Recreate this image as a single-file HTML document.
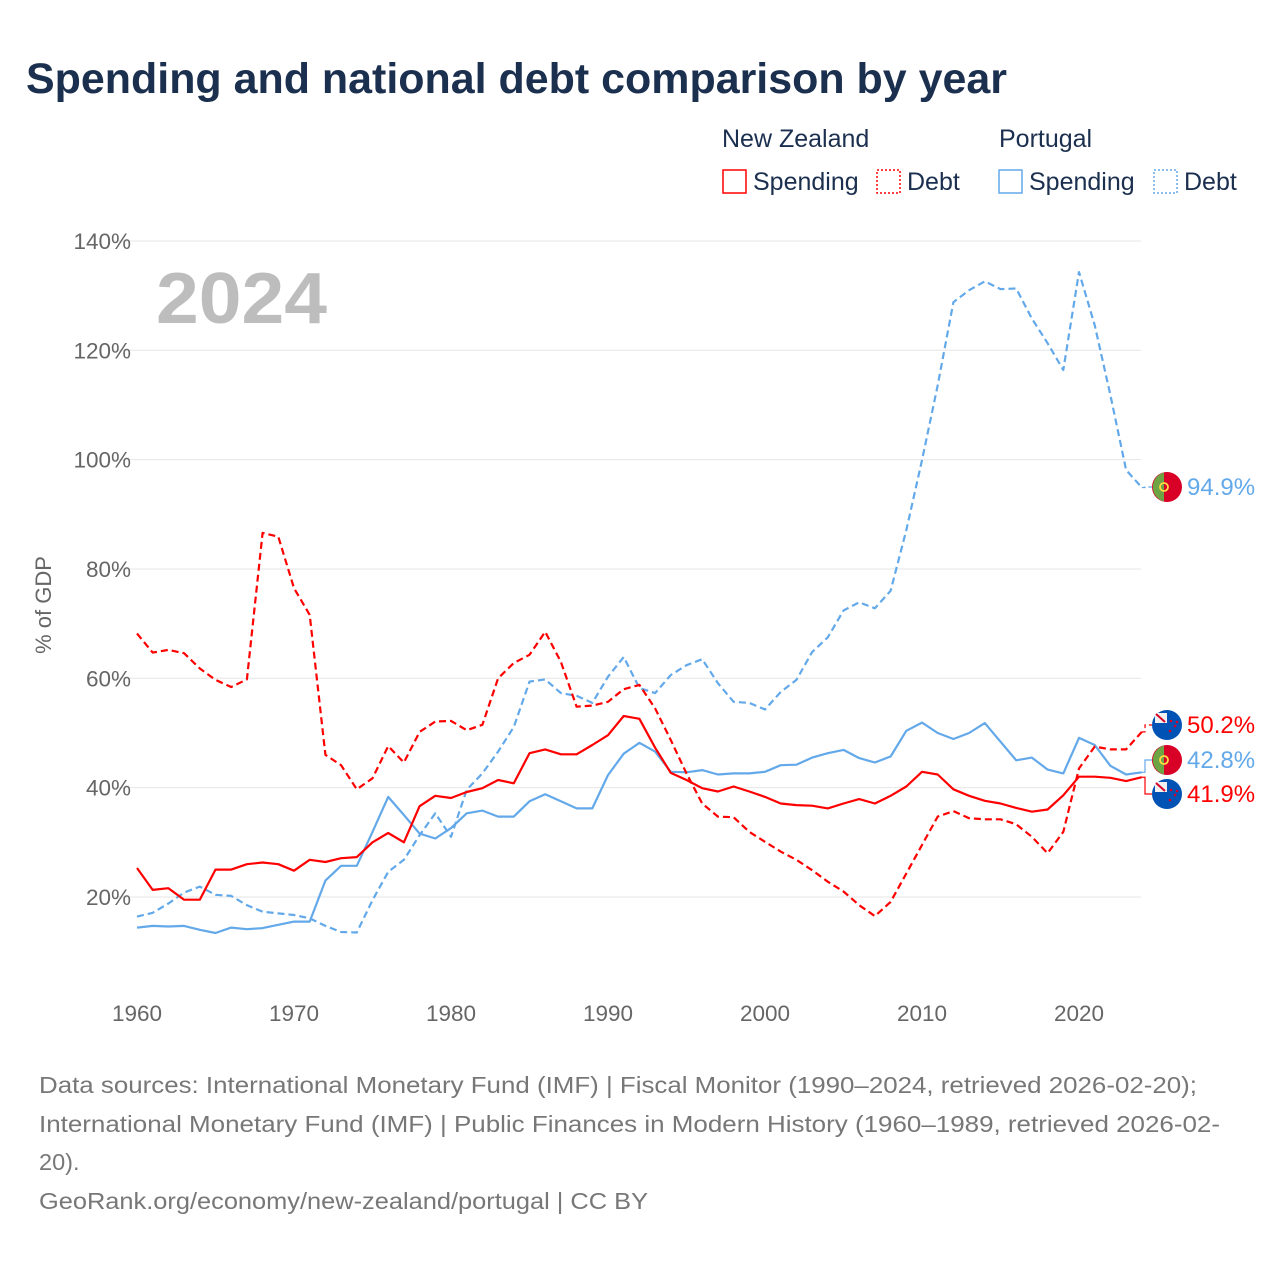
<!DOCTYPE html>
<html><head><meta charset="utf-8"><style>
body{margin:0;background:#fff;width:1280px;height:1280px;overflow:hidden;font-family:"Liberation Sans",sans-serif}
</style></head><body>
<svg id="chart" width="1280" height="1280" xmlns="http://www.w3.org/2000/svg" font-family="Liberation Sans, sans-serif">
<text x="26" y="93" font-size="43" font-weight="bold" fill="#1b2f4f" textLength="981" lengthAdjust="spacingAndGlyphs">Spending and national debt comparison by year</text>
<g font-size="25" fill="#1b2f4f">
<text x="722" y="147">New Zealand</text>
<text x="999" y="147">Portugal</text>
<g><rect x="723" y="170" width="23" height="23" fill="none" stroke="#f00" stroke-width="1.5"/><text x="753" y="190">Spending</text></g>
<g><rect x="877" y="170" width="23" height="23" fill="none" stroke="#f00" stroke-width="1.5" stroke-dasharray="2,2"/><text x="907" y="190">Debt</text></g>
<g><rect x="999" y="170" width="23" height="23" fill="none" stroke="#63a9ea" stroke-width="1.5"/><text x="1029" y="190">Spending</text></g>
<g><rect x="1154" y="170" width="23" height="23" fill="none" stroke="#63a9ea" stroke-width="1.5" stroke-dasharray="2,2"/><text x="1184" y="190">Debt</text></g>
</g>
<g id="grid"></g>
<g id="yticks" font-size="22.5" fill="#666" text-anchor="end"></g>
<g id="xticks" font-size="22.5" fill="#666" text-anchor="middle"></g>
<text x="156" y="323" font-size="72" font-weight="bold" fill="#bdbdbd" textLength="171" lengthAdjust="spacingAndGlyphs">2024</text>
<text transform="translate(51,605) rotate(-90)" font-size="22" fill="#666" text-anchor="middle">% of GDP</text>
<g id="series"></g>
<g id="endlabels" font-size="24"></g>
<g font-size="23.5" fill="#777">
<text x="39" y="1093" textLength="1158" lengthAdjust="spacingAndGlyphs">Data sources: International Monetary Fund (IMF) | Fiscal Monitor (1990–2024, retrieved 2026-02-20);</text>
<text x="39" y="1132" textLength="1181" lengthAdjust="spacingAndGlyphs">International Monetary Fund (IMF) | Public Finances in Modern History (1960–1989, retrieved 2026-02-</text>
<text x="39" y="1170">20).</text>
<text x="39" y="1209" textLength="609" lengthAdjust="spacingAndGlyphs">GeoRank.org/economy/new-zealand/portugal | CC BY</text>
</g>
</svg>
<script>
const firstYear = 1960;
const yTicks = [20, 40, 60, 80, 100, 120, 140];
const xTicks = [1960, 1970, 1980, 1990, 2000, 2010, 2020];
const nzSpending = [25.3,21.3,21.6,19.5,19.5,25,25,26,26.3,26,24.8,26.8,26.4,27.1,27.3,30,31.7,30,36.6,38.5,38.1,39.2,39.9,41.4,40.8,46.3,47,46.1,46.1,47.8,49.6,53.1,52.6,47.3,42.7,41.4,39.9,39.3,40.2,39.3,38.3,37.1,36.8,36.7,36.2,37.1,37.9,37.1,38.5,40.2,42.9,42.4,39.7,38.5,37.6,37.1,36.3,35.6,36.0,38.6,42,42,41.8,41.2,41.9];
const nzDebt = [68.2,64.7,65.2,64.6,61.8,59.7,58.4,59.8,86.6,85.9,76.5,71.6,46,44.1,39.7,41.7,47.6,44.6,50.2,52.1,52.2,50.5,51.5,60,62.8,64.3,68.5,63,54.8,55,55.7,58,58.8,54.5,48.7,42.6,37.1,34.7,34.6,31.9,30.1,28.3,26.8,24.9,22.8,21,18.5,16.5,19.1,24.3,29.5,34.7,35.7,34.4,34.2,34.2,33.3,31,28,31.9,43.5,47.5,47,47,50.2];
const ptSpending = [14.4,14.7,14.6,14.7,14,13.4,14.4,14.1,14.3,14.9,15.5,15.5,23,25.7,25.7,31.9,38.3,35,31.6,30.7,32.6,35.3,35.8,34.7,34.7,37.5,38.8,37.5,36.2,36.2,42.3,46.2,48.2,46.6,42.9,42.8,43.2,42.4,42.6,42.6,42.9,44.1,44.2,45.5,46.3,46.9,45.4,44.6,45.7,50.4,51.9,50,48.9,50,51.8,48.4,45,45.5,43.3,42.6,49.1,47.8,44,42.4,42.8];
const ptDebt = [16.4,17.1,18.8,20.8,21.9,20.4,20.2,18.5,17.3,17,16.7,16.1,14.7,13.6,13.5,19.4,24.6,26.8,31.3,35.3,31,39.6,42.6,46.6,51.1,59.4,59.8,57.3,56.8,55.5,60.3,63.9,58.2,57.3,60.6,62.4,63.5,59.1,55.7,55.5,54.3,57.5,59.7,64.8,67.5,72.4,73.9,72.8,76,87.1,99.9,113.6,128.8,131,132.6,131.2,131.3,125.8,121.3,116.4,134.3,124.6,111.8,98.1,94.9];

const NS='http://www.w3.org/2000/svg';
const xS = yr => 137 + (yr-1960)*15.7;
const yS = v => 1006.3 - v*5.4667;
function mk(tag, attrs, parent){const e=document.createElementNS(NS,tag);for(const k in attrs)e.setAttribute(k,attrs[k]);parent.appendChild(e);return e;}
const grid=document.getElementById('grid'), yt=document.getElementById('yticks'), xt=document.getElementById('xticks');
yTicks.forEach(v=>{
  const l=mk('line',{x1:112,x2:1141,y1:yS(v),y2:yS(v),stroke:'#e6e6e6','stroke-width':1},grid);
  
  
  const t=mk('text',{x:131,y:yS(v)+8},yt); t.textContent=v+'%';
  
  
});
xTicks.forEach(y=>{
  const t=mk('text',{x:xS(y),y:1021},xt); t.textContent=y;
  
  
});
const series=document.getElementById('series');
function draw(arr,color,dash,name){
  const d=arr.map((v,i)=>(i?'L':'M')+xS(firstYear+i).toFixed(1)+','+yS(v).toFixed(1)).join('');
  const p=mk('path',{d:d,fill:'none',stroke:color,'stroke-width':2.2,'stroke-linejoin':'round'},series);
  if(dash)p.setAttribute('stroke-dasharray','7,4');
  
  
}
draw(ptDebt,'#63a9ea',true,'line-portugal-debt');
draw(ptSpending,'#63a9ea',false,'line-portugal-spending');
draw(nzDebt,'#f00',true,'line-nz-debt');
draw(nzSpending,'#f00',false,'line-nz-spending');

const el=document.getElementById('endlabels');
function endLabel(arr,labelY,color,country,name,dash){
  const last=arr[arr.length-1], x0=xS(firstYear+arr.length-1), y0=yS(last);
  const c=mk('path',{d:`M${x0},${y0}L1145,${y0}L1145,${labelY}L1152,${labelY}`,fill:'none',stroke:color,'stroke-width':1.2},el);
  if(dash)c.setAttribute('stroke-dasharray','4,3');
  
  
  const g=mk('g',{},el);
  
  
  const cx=1167, r=15;
  if(country==='pt'){
    mk('circle',{cx:cx,cy:labelY,r:r,fill:'#d80027'},g);
    mk('path',{d:`M${cx-3},${labelY-r+0.5}A${r},${r} 0 0 0 ${cx-3},${labelY+r-0.5}Z`,fill:'#6da544'},g);
    mk('circle',{cx:cx-3,cy:labelY,r:4,fill:'none',stroke:'#ffda44','stroke-width':1.8},g);
  } else {
    mk('circle',{cx:cx,cy:labelY,r:r,fill:'#0052b4'},g);
    mk('rect',{x:cx-r+3,y:labelY-r+3,width:12,height:10,fill:'#f0f0f0'},g);
    mk('path',{d:`M${cx-11},${labelY-11}L${cx-2},${labelY-3}`,stroke:'#d80027','stroke-width':2},g);
    [[4,-4],[8,1],[3,6],[10,-3]].forEach(s=>mk('circle',{cx:cx+s[0],cy:labelY+s[1],r:1.3,fill:'#d80027'},g));
  }
  const t=mk('text',{x:1187,y:labelY+8,fill:color},el); t.textContent=last.toFixed(1)+'%';
  
  
}
endLabel(ptDebt,487,'#63a9ea','pt','end-label-pt-debt',true);
endLabel(nzDebt,725,'#f00','nz','end-label-nz-debt',true);
endLabel(ptSpending,760,'#63a9ea','pt','end-label-pt-spending',false);
endLabel(nzSpending,794,'#f00','nz','end-label-nz-spending',false);
</script>
</body></html>
